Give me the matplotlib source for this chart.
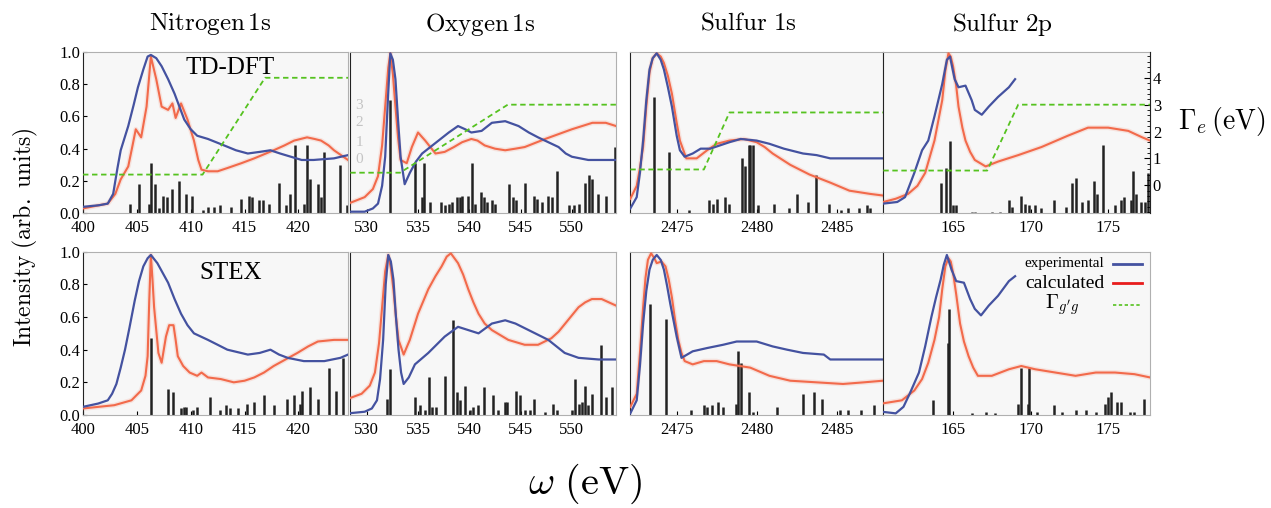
import numpy as np
import matplotlib
matplotlib.use("Agg")
import matplotlib.pyplot as plt

plt.rcParams['font.family'] = ['Liberation Serif', 'DejaVu Serif']
plt.rcParams['mathtext.fontset'] = 'cm'

# ---- data (eV, normalised intensity) ----
# Nitrogen 1s, TD-DFT
N_TD_EXP = [(400, .04), (401.5, .05), (402.3, .06), (402.8, .12), (403.2, .28), (403.5, .39), (404.2, .54),
            (404.7, .67), (405.1, .78), (405.6, .89), (406.0, .97), (406.3, .98), (406.8, .96), (407.3, .91),
            (407.9, .83), (408.5, .74), (409.4, .58), (410.0, .52), (410.6, .48), (411.6, .46), (413.1, .42),
            (414.2, .39), (415.3, .37), (416.4, .38), (417.4, .39), (418.3, .37), (419.3, .35), (420.3, .33),
            (421.4, .33), (423.3, .34), (424.6, .36)]
N_TD_CAL = [(400, .03), (401.5, .05), (402.3, .06), (403.0, .12), (403.5, .21), (404.2, .29), (404.6, .42),
            (404.9, .52), (405.4, .47), (405.9, .66), (406.3, .97), (406.8, .83), (407.3, .66), (407.9, .64),
            (408.3, .68), (408.6, .59), (409.1, .68), (409.7, .58), (410.3, .45), (410.7, .33), (411.0, .27),
            (411.6, .26), (412.5, .26), (413.4, .28), (414.7, .31), (415.9, .34), (417.7, .39), (418.7, .42),
            (419.6, .45), (420.8, .47), (421.5, .46), (422.1, .45), (422.8, .42), (423.3, .39), (424.6, .33)]
N_TD_STK = [(404.4, .06), (405.2, .18), (406.1, .06), (406.3, .31), (406.7, .18), (407.1, .03), (407.4, .11),
            (407.8, .10), (408.3, .15), (408.9, .20), (409.6, .12), (410.1, .11), (411.1, .02), (411.6, .04),
            (412.2, .04), (412.7, .05), (413.7, .04), (414.7, .09), (415.4, .11), (415.7, .10), (416.3, .08),
            (416.7, .08), (417.3, .06), (418.2, .19), (418.8, .05), (419.2, .12), (419.7, .42), (420.5, .06),
            (420.8, .42), (421.1, .21), (421.8, .18), (422.1, .10), (422.4, .38), (423.9, .30), (424.5, .05)]
N_GAMMA = [(400, .4), (411.1, .4), (416.9, 4.0), (424.6, 4.0)]

# Oxygen 1s, TD-DFT
O_TD_EXP = [(528.2, .01), (529.8, .01), (530.6, .03), (531.1, .06), (531.5, .17), (531.8, .35), (532.1, .75),
            (532.3, .99), (532.55, .95), (532.8, .83), (533.05, .58), (533.3, .35), (533.7, .18), (534.2, .25),
            (534.8, .32), (535.4, .37), (537.0, .45), (538.0, .50), (538.9, .54), (539.6, .52), (540.2, .50),
            (541.2, .51), (542.2, .56), (543.5, .57), (544.8, .54), (545.8, .50), (546.7, .47), (548.7, .41),
            (549.4, .37), (550.0, .35), (551.6, .33), (554.3, .33)]
O_TD_CAL = [(528.2, .06), (529.8, .10), (530.6, .15), (531.1, .23), (531.5, .42), (531.8, .66), (532.1, .90),
            (532.3, .99), (532.55, .86), (532.8, .66), (533.05, .47), (533.3, .33), (533.9, .31), (534.4, .41),
            (535.0, .50), (535.7, .45), (536.7, .37), (537.6, .38), (538.5, .41), (539.3, .44), (540.2, .46),
            (540.8, .45), (541.5, .42), (542.5, .40), (543.5, .39), (544.5, .40), (545.4, .41), (547.4, .46),
            (548.7, .49), (550.0, .52), (551.0, .54), (552.0, .56), (553.3, .56), (554.3, .54)]
O_TD_STK = [(532.3, .70), (534.7, .31), (535.6, .31), (535.4, .10), (536.2, .07), (537.2, .07), (537.6, .05),
            (538.0, .06), (538.3, .07), (538.8, .10), (539.1, .10), (539.3, .11), (539.9, .11), (540.3, .31),
            (540.6, .06), (541.1, .13), (541.4, .10), (541.7, .07), (542.2, .08), (542.5, .06), (543.9, .18),
            (544.3, .10), (544.6, .08), (545.4, .19), (546.3, .11), (546.6, .09), (547.1, .07), (547.7, .11),
            (548.1, .10), (548.5, .26), (549.7, .05), (550.2, .05), (550.7, .06), (551.3, .19), (551.7, .24),
            (552.0, .21), (552.5, .12), (553.3, .11), (554.2, .41)]
O_GAMMA = [(528.4, .47), (533.25, .47), (543.75, 3.0), (554.3, 3.0)]

# Sulfur 1s, TD-DFT
S1_TD_EXP = [(2472.1, .03), (2472.5, .10), (2472.7, .25), (2472.9, .45), (2473.1, .70), (2473.3, .89),
             (2473.5, .96), (2473.75, .99), (2474.0, .95), (2474.2, .89), (2474.45, .78), (2474.7, .66),
             (2475.0, .48), (2475.2, .39), (2475.5, .35), (2476.0, .37), (2476.5, .40), (2477.1, .40),
             (2477.7, .42), (2478.3, .44), (2479.0, .46), (2480.0, .45), (2480.8, .43), (2481.7, .40),
             (2482.9, .37), (2483.75, .36), (2484.6, .34), (2486.25, .34), (2487.9, .34)]
S1_TD_CAL = [(2472.1, .09), (2472.5, .17), (2472.7, .28), (2472.9, .41), (2473.1, .66), (2473.3, .87),
             (2473.5, .96), (2473.75, .99), (2474.0, .97), (2474.2, .93), (2474.45, .85), (2474.7, .74),
             (2475.0, .56), (2475.2, .45), (2475.6, .34), (2476.25, .34), (2476.9, .39), (2477.5, .43),
             (2478.3, .45), (2479.2, .46), (2480.0, .44), (2480.5, .41), (2481.0, .37), (2482.1, .30),
             (2483.3, .24), (2484.6, .19), (2485.8, .14), (2487.1, .12), (2487.9, .11)]
S1_TD_STK = [(2473.6, .72), (2474.5, .38), (2475.8, .02), (2477.0, .08), (2477.25, .06), (2477.5, .09),
             (2478.0, .10), (2478.3, .06), (2479.1, .34), (2479.25, .29), (2479.5, .42), (2479.6, .42),
             (2479.75, .42), (2480.1, .05), (2481.1, .06), (2482.0, .03), (2482.5, .12), (2483.2, .07),
             (2483.7, .24), (2484.5, .06), (2485.3, .02), (2485.7, .03), (2486.4, .03), (2486.9, .05),
             (2487.1, .03)]
S1_GAMMA = [(2472.1, .59), (2476.7, .59), (2478.3, 2.71), (2487.9, 2.71)]

# Sulfur 2p, TD-DFT
S2_TD_EXP = [(160.5, .06), (161.4, .07), (161.9, .10), (162.5, .25), (163.0, .39), (163.4, .45), (163.8, .60),
             (164.3, .80), (164.6, .95), (164.8, .97), (165.1, .83), (165.35, .78), (165.8, .79), (166.2, .70),
             (166.4, .64), (166.85, .61), (167.3, .66), (167.9, .72), (168.6, .78), (169.0, .83)]
S2_TD_CAL = [(160.5, .07), (161.3, .09), (162.1, .12), (162.7, .17), (163.2, .25), (163.8, .45), (164.3, .70),
             (164.5, .88), (164.7, .99), (164.85, .97), (165.0, .91), (165.2, .79), (165.35, .66), (165.6, .53),
             (165.8, .45), (166.1, .38), (166.4, .33), (167.1, .29), (167.9, .32), (169.2, .36), (170.7, .41),
             (172.4, .48), (173.7, .53), (175.0, .53), (176.3, .51), (177.2, .47), (177.7, .45)]
S2_TD_STK = [(164.2, .19), (164.55, .28), (164.8, .45), (165.0, .05), (165.2, .05), (166.2, .01), (166.4, .01),
             (167.5, .01), (168.0, .01), (168.6, .08), (168.8, .04), (169.4, .11), (169.65, .06), (169.9, .05),
             (170.3, .05), (170.7, .03), (171.5, .08), (172.3, .04), (172.65, .19), (172.95, .22), (173.3, .07),
             (173.7, .08), (174.1, .20), (174.3, .12), (174.7, .42), (175.45, .05), (175.8, .08), (176.05, .10),
             (176.5, .08), (176.6, .26), (176.8, .12), (177.1, .07), (177.35, .07), (177.6, .25)]
S2_GAMMA = [(160.5, .55), (167.2, .55), (169.2, 3.0), (177.7, 3.0)]

# Nitrogen 1s, STEX
N_ST_EXP = [(400, .05), (401.4, .07), (402.3, .09), (402.7, .13), (403.1, .19), (403.5, .29), (403.9, .40),
            (404.3, .53), (404.8, .70), (405.2, .82), (405.6, .91), (406.0, .96), (406.3, .98), (406.9, .93),
            (407.4, .87), (407.9, .81), (408.5, .71), (409.1, .62), (409.7, .55), (410.3, .50), (411.6, .46),
            (412.5, .43), (413.4, .40), (415.3, .37), (416.4, .38), (417.4, .40), (418.2, .37), (419.0, .35),
            (420.5, .33), (422.4, .33), (423.9, .35), (424.6, .37)]
N_ST_CAL = [(400, .04), (402.9, .06), (404.5, .09), (405.4, .15), (405.8, .24), (406.0, .36), (406.15, .70),
            (406.3, .98), (406.45, .83), (406.6, .66), (407.0, .38), (407.3, .32), (407.7, .48), (408.0, .55),
            (408.4, .55), (408.6, .46), (408.8, .36), (409.3, .30), (409.9, .26), (410.6, .24), (411.0, .26),
            (411.6, .23), (412.8, .22), (414.0, .20), (415.0, .21), (415.9, .23), (416.8, .26), (417.7, .30),
            (418.8, .34), (419.9, .38), (420.9, .42), (421.8, .45), (423.3, .46), (424.6, .46)]
N_ST_STK = [(406.3, .47), (407.9, .16), (408.4, .14), (409.1, .04), (409.4, .05), (409.6, .05), (410.2, .03),
            (410.6, .05), (411.8, .11), (412.7, .03), (413.3, .06), (413.6, .04), (414.4, .04), (415.2, .07),
            (415.9, .08), (416.8, .12), (417.7, .06), (418.9, .10), (419.6, .12), (420.1, .07), (420.3, .15),
            (421.1, .17), (421.85, .10), (422.8, .29), (423.5, .15), (424.1, .35)]

# Oxygen 1s, STEX
O_ST_EXP = [(528.2, .01), (529.8, .02), (530.5, .04), (531.0, .09), (531.3, .22), (531.6, .46), (531.85, .80),
            (532.1, .98), (532.35, .94), (532.6, .83), (532.85, .60), (533.1, .40), (533.35, .26), (533.6, .19),
            (534.1, .23), (534.7, .31), (536.0, .38), (537.6, .48), (538.9, .54), (539.9, .52), (540.9, .50),
            (542.2, .56), (543.5, .58), (544.5, .56), (546.1, .51), (547.7, .46), (549.3, .38), (550.65, .35),
            (552.6, .34), (554.3, .34)]
O_ST_CAL = [(528.2, .10), (529.5, .13), (530.3, .18), (530.8, .26), (531.2, .44), (531.5, .66), (531.8, .88),
            (532.1, .98), (532.35, .90), (532.6, .77), (532.85, .60), (533.1, .46), (533.6, .37), (534.2, .46),
            (535.0, .62), (536.0, .77), (536.7, .85), (537.3, .91), (537.8, .97), (538.2, .99), (538.9, .93),
            (539.4, .86), (539.9, .77), (540.4, .69), (540.9, .62), (541.5, .56), (542.2, .52), (543.8, .46),
            (545.4, .43), (546.7, .43), (548.0, .47), (548.7, .51), (549.35, .56), (550.0, .61), (550.65, .66),
            (551.3, .69), (551.95, .71), (552.9, .71), (553.6, .69), (554.3, .67)]
O_ST_STK = [(532.0, .10), (532.3, .28), (534.7, .11), (535.2, .06), (535.7, .03), (536.1, .23), (536.4, .05),
            (536.8, .05), (537.6, .24), (538.4, .58), (538.8, .14), (539.1, .09), (539.6, .18), (540.1, .03),
            (540.4, .05), (540.8, .06), (541.4, .17), (542.3, .12), (542.8, .03), (543.5, .08), (543.7, .08),
            (544.6, .15), (544.9, .12), (545.4, .03), (545.9, .03), (546.3, .10), (547.4, .02), (548.2, .07),
            (548.5, .03), (550.0, .03), (550.3, .22), (550.65, .07), (551.0, .08), (551.3, .18), (551.6, .06),
            (552.0, .13), (552.8, .43), (553.3, .11), (553.9, .17)]

# Sulfur 1s, STEX
S1_ST_EXP = [(2472.1, .01), (2472.5, .09), (2472.7, .30), (2472.9, .56), (2473.1, .76), (2473.3, .89),
             (2473.5, .95), (2473.75, .98), (2474.0, .95), (2474.2, .89), (2474.4, .79), (2474.6, .68),
             (2474.8, .58), (2475.0, .48), (2475.3, .35), (2476.0, .39), (2476.9, .41), (2477.9, .43),
             (2478.75, .45), (2480.0, .45), (2481.0, .42), (2481.9, .40), (2482.9, .38), (2484.2, .37),
             (2484.6, .34), (2487.9, .34)]
S1_ST_CAL = [(2472.1, .05), (2472.5, .13), (2472.7, .38), (2472.9, .66), (2473.05, .84), (2473.2, .95),
             (2473.4, .99), (2473.6, .96), (2473.75, .93), (2474.05, .94), (2474.3, .91), (2474.5, .83),
             (2474.7, .72), (2474.9, .58), (2475.1, .46), (2475.3, .38), (2475.5, .33), (2476.0, .31),
             (2476.7, .33), (2477.5, .33), (2478.3, .31), (2479.6, .29), (2480.8, .24), (2482.1, .21),
             (2483.75, .20), (2485.4, .19), (2486.7, .20), (2487.9, .21)]
S1_ST_STK = [(2473.3, .68), (2474.3, .59), (2475.9, .03), (2476.7, .06), (2476.9, .05), (2477.2, .06),
             (2477.6, .08), (2477.9, .05), (2478.7, .07), (2478.85, .39), (2479.0, .32), (2479.55, .14),
             (2479.8, .02), (2481.3, .05), (2482.9, .13), (2483.6, .14), (2484.1, .10), (2485.2, .03),
             (2485.7, .03), (2486.5, .03), (2487.35, .06)]

# Sulfur 2p, STEX
S2_ST_EXP = [(160.4, .02), (161.3, .01), (161.8, .05), (162.2, .13), (162.8, .26), (163.2, .42), (163.6, .60),
             (163.9, .72), (164.2, .83), (164.4, .92), (164.6, .98), (164.9, .89), (165.2, .82), (165.7, .81),
             (166.1, .71), (166.4, .65), (166.8, .61), (167.3, .67), (167.9, .73), (168.6, .82), (169.0, .85)]
S2_ST_CAL = [(160.4, .07), (161.7, .09), (162.5, .15), (163.0, .22), (163.4, .32), (163.8, .46), (164.1, .60),
             (164.3, .77), (164.5, .91), (164.7, .96), (164.85, .94), (165.0, .87), (165.2, .74), (165.45, .56),
             (165.7, .45), (166.0, .36), (166.3, .29), (166.6, .24), (167.5, .24), (168.6, .28), (169.4, .30),
             (170.3, .28), (171.6, .26), (172.9, .24), (174.2, .26), (175.45, .26), (176.7, .25), (177.7, .23)]
S2_ST_STK = [(163.7, .09), (164.65, .44), (164.75, .65), (166.2, .01), (167.1, .02), (167.7, .01), (169.2, .07),
             (169.4, .29), (169.8, .07), (169.9, .29), (170.4, .02), (171.5, .06), (172.0, .02), (172.9, .03),
             (173.6, .03), (174.2, .02), (174.8, .07), (175.0, .11), (175.2, .14), (175.6, .08), (175.8, .08),
             (176.4, .02), (176.7, .02), (177.3, .10)]

TITLES = [r"$\mathrm{Nitrogen\,1s}$", r"$\mathrm{Oxygen\,1s}$", r"$\mathrm{Sulfur\ 1s}$",
          r"$\mathrm{Sulfur\ 2p}$"]
XLIMS = [(400, 424.6), (528.37, 554.3), (2472.08, 2487.9), (160.48, 177.7)]
XTICKS = [[400, 405, 410, 415, 420], [530, 535, 540, 545, 550], [2475, 2480, 2485], [165, 170, 175]]
GAMMA_LIM = (-1.04, 4.97)

TOP = [(N_TD_EXP, N_TD_CAL, N_TD_STK, N_GAMMA), (O_TD_EXP, O_TD_CAL, O_TD_STK, O_GAMMA),
       (S1_TD_EXP, S1_TD_CAL, S1_TD_STK, S1_GAMMA), (S2_TD_EXP, S2_TD_CAL, S2_TD_STK, S2_GAMMA)]
BOT = [(N_ST_EXP, N_ST_CAL, N_ST_STK, None), (O_ST_EXP, O_ST_CAL, O_ST_STK, None),
       (S1_ST_EXP, S1_ST_CAL, S1_ST_STK, None), (S2_ST_EXP, S2_ST_CAL, S2_ST_STK, None)]

BLUE = '#4452a0'
RED = '#f26a4b'
GREEN = '#55c21f'

W, H = 1271, 508
fig = plt.figure(figsize=(W / 100, H / 100), dpi=100)

col_px = [(83, 348), (350, 616), (630, 883), (883, 1150)]
row_px = [(51.7, 213.3), (251.7, 415)]


def rect(l, r, t, b):
    return [l / W, 1 - b / H, (r - l) / W, (b - t) / H]


for r, row in enumerate([TOP, BOT]):
    for c, (exp, cal, stk, gam) in enumerate(row):
        ax = fig.add_axes(rect(col_px[c][0], col_px[c][1], row_px[r][0], row_px[r][1]))
        ax.set_facecolor('#f7f7f7')
        ex, ey = zip(*exp)
        cx, cy = zip(*cal)
        sx, sy = zip(*stk)
        ax.vlines(sx, 0, sy, color='#222222', lw=1.8, zorder=2)
        ax.plot(cx, cy, color=RED, lw=3.5, alpha=0.15, zorder=3, solid_joinstyle='round')
        ax.plot(cx, cy, color=RED, lw=1.5, zorder=3, solid_joinstyle='round')
        ax.plot(ex, ey, color=BLUE, lw=1.6, zorder=4, solid_joinstyle='round')
        ax.set_xlim(*XLIMS[c])
        ax.set_ylim(0, 1.0)
        ax.set_xticks(XTICKS[c])
        ax.tick_params(direction='in', labelsize=12, length=3, pad=2)
        ax.tick_params(axis='x', pad=5)
        if c == 0:
            ax.set_yticks([0, .2, .4, .6, .8, 1.0])
            ax.set_yticklabels(['0.0', '0.2', '0.4', '0.6', '0.8', '1.0'])
        else:
            ax.set_yticks([])
        for sp in ax.spines.values():
            sp.set_color('#b0b0b0')
            sp.set_linewidth(0.8)
        ax.spines['left'].set_color('#222222')
        if gam is not None:
            tw = ax.twinx()
            gx, gy = zip(*gam)
            tw.plot(gx, gy, color=GREEN, lw=1.3, ls=(0, (3, 2)), zorder=5)
            tw.set_ylim(*GAMMA_LIM)
            tw.set_xlim(*XLIMS[c])
            for sp in tw.spines.values():
                sp.set_visible(False)
            if c == 3:
                tw.spines['right'].set_visible(True)
                tw.spines['right'].set_color('#222222')
                tw.set_yticks([0, 1, 2, 3, 4])
                tw.set_yticks(np.arange(-1, 5, 0.2), minor=True)
                tw.tick_params(direction='in', labelsize=12, length=4, pad=2)
                tw.tick_params(which='minor', direction='in', length=2)
            else:
                tw.set_yticks([])
        if r == 0 and c == 0:
            ax.text(413.7, 0.9, "TD-DFT", fontsize=18, ha='center', va='center')
        if r == 1 and c == 0:
            ax.text(413.7, 0.87, "STEX", fontsize=18, ha='center', va='center')
        if r == 0 and c == 1:
            for k, yy in enumerate([0.67, 0.56, 0.44, 0.33]):
                ax.text(0.02, yy, str(3 - k), transform=ax.transAxes, color='#c4c4c4',
                        fontsize=11, ha='left', va='center')
        if r == 1 and c == 3:
            labels = ["experimental", "calculated"]
            sizes = [11, 14]
            for k, (lab, col, yp) in enumerate(zip(labels, [BLUE, '#e81c1c'], [264, 283])):
                fy = (row_px[1][1] - yp) / (row_px[1][1] - row_px[1][0])
                ax.text((1104 - 883) / 267, fy, lab, transform=ax.transAxes, fontsize=sizes[k],
                        ha='right', va='center')
                ax.plot([(1113 - 883) / 267, (1142 - 883) / 267], [fy, fy], color=col, lw=2,
                        transform=ax.transAxes)
            fy = (row_px[1][1] - 305) / (row_px[1][1] - row_px[1][0])
            ax.text((1062 - 883) / 267, fy, r"$\Gamma_{g'g}$", transform=ax.transAxes, fontsize=15,
                    ha='center', va='center')
            ax.plot([(1113 - 883) / 267, (1142 - 883) / 267], [fy, fy], color=GREEN, lw=1.2,
                    ls=(0, (2, 1.5)), transform=ax.transAxes)

for title, xc in zip(TITLES, [210, 480, 748, 1002]):
    fig.text(xc / W, 1 - 24 / H, title, fontsize=18, ha='center', va='center')

fig.text(25 / W, 1 - 237 / H, r"$\mathrm{Intensity\ (arb.\ units)}$", fontsize=17, rotation=90,
         ha='center', va='center')
fig.text(585 / W, 1 - 484 / H, r"$\omega\ \mathrm{(eV)}$", fontsize=29, ha='center', va='center')
fig.text(1222 / W, 1 - 122 / H, r"$\Gamma_e\,\mathrm{(eV)}$", fontsize=20, ha='center', va='center')

fig.savefig("out.png", dpi=100)
